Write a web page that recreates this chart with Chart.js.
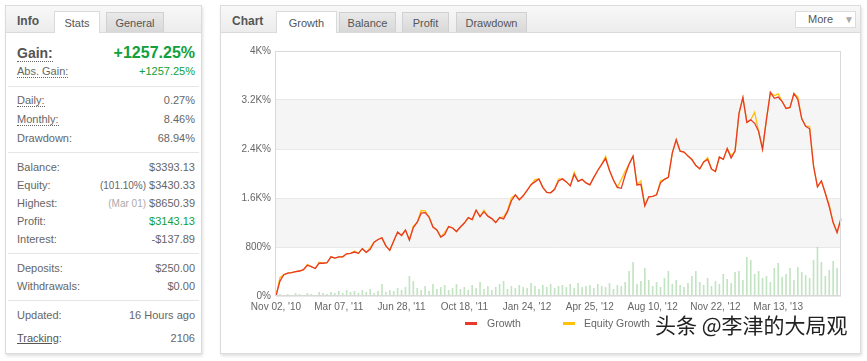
<!DOCTYPE html>
<html>
<head>
<meta charset="utf-8">
<script src="https://cdn.jsdelivr.net/npm/chart.js@4.4.1/dist/chart.umd.min.js"></script>
<style>
  html, body { margin: 0; padding: 0; background: #fff; }
  body { width: 867px; height: 361px; position: relative; overflow: hidden; font-family: "Liberation Sans", Arial, sans-serif; font-size: 11px; color: #666; }
  .panel { position: absolute; top: 5px; height: 347px; background: #fff; border: 1px solid #dcdcdc; box-shadow: 1px 2px 3px rgba(0, 0, 0, 0.13); }
  .head { position: absolute; left: 0; top: 0; right: 0; height: 26px; background: linear-gradient(#f8f8f8, #ececec); border-bottom: 1px solid #dadada; }
  .title { position: absolute; top: 0; line-height: 30px; font-weight: bold; font-size: 12px; color: #555; }
  .tab { position: absolute; top: 6px; height: 20px; line-height: 21px; text-align: center; font-size: 11px; color: #555; border: 1px solid #d0d0d0; border-bottom: none; background: linear-gradient(#e9e9e9, #d8d8d8); box-sizing: border-box; }
  .tab.on { top: 5px; height: 22px; line-height: 23px; background: #fff; border-color: #dadada; }
  .more { position: absolute; left: 574px; top: 5px; width: 61px; height: 17px; box-sizing: border-box; border: 1px solid #dcdcdc; background: #fff; font-size: 11px; color: #555; line-height: 15px; }
  .more span { position: absolute; left: 12px; }
  .more i { position: absolute; left: 48px; top: 0; font-style: normal; font-size: 10px; color: #aaa; }
  .row { position: absolute; left: 11px; width: 178px; height: 18px; line-height: 18px; }
  .row .v { position: absolute; right: 0; top: 0; }
  .dot { border-bottom: 1px dotted #666; }
  .green { color: #10a03c; }
  .big { height: 20px; line-height: 20px; }
  .big .k { font-size: 14px; font-weight: bold; color: #555; }
  .big .v { font-size: 16px; font-weight: bold; }
  .small { font-size: 10px; color: #666; }
  .light { font-size: 10px; color: #aaa; }
  .sep { position: absolute; left: 2px; width: 191px; height: 1px; background: #e6e6e6; }
  .u { text-decoration: underline; color: #555; }
  #chartBox { position: absolute; left: 222px; top: 36px; width: 634px; height: 280px; }
  .leg { position: absolute; top: 317px; line-height: 12px; font-size: 10.5px; color: #666; }
  .mk { position: absolute; top: 322px; width: 12px; height: 3px; }
  .mark { position: absolute; left: 655px; top: 310px; font-family: "Noto Sans CJK SC", sans-serif; font-size: 21px; line-height: 28px; color: #222;
          text-shadow: 0 0 2px #fff, 0 0 2px #fff, 1px 1px 1px #fff, -1px -1px 1px #fff; }
</style>
</head>
<body>

<div class="panel" style="left:5px; width:195px;">
  <div class="head">
    <div class="title" style="left:11px;">Info</div>
    <div class="tab on" style="left:48px; width:46px;">Stats</div>
    <div class="tab" style="left:100px; width:58px;">General</div>
  </div>
  <div class="row big" style="top:37px;"><span class="k dot">Gain:</span><span class="v green">+1257.25%</span></div>
  <div class="row" style="top:56px;"><span class="dot">Abs. Gain:</span><span class="v green">+1257.25%</span></div>
  <div class="sep" style="top:80px;"></div>
  <div class="row" style="top:85px;"><span class="dot">Daily:</span><span class="v">0.27%</span></div>
  <div class="row" style="top:104px;"><span class="dot">Monthly:</span><span class="v">8.46%</span></div>
  <div class="row" style="top:123px;">Drawdown:<span class="v">68.94%</span></div>
  <div class="sep" style="top:146px;"></div>
  <div class="row" style="top:152px;">Balance:<span class="v">$3393.13</span></div>
  <div class="row" style="top:170px;">Equity:<span class="v"><span class="small">(101.10%)</span> $3430.33</span></div>
  <div class="row" style="top:188px;">Highest:<span class="v"><span class="light">(Mar 01)</span> $8650.39</span></div>
  <div class="row" style="top:206px;">Profit:<span class="v green">$3143.13</span></div>
  <div class="row" style="top:224px;">Interest:<span class="v">-$137.89</span></div>
  <div class="sep" style="top:247px;"></div>
  <div class="row" style="top:253px;">Deposits:<span class="v">$250.00</span></div>
  <div class="row" style="top:271px;">Withdrawals:<span class="v">$0.00</span></div>
  <div class="sep" style="top:294px;"></div>
  <div class="row" style="top:300px;">Updated:<span class="v">16 Hours ago</span></div>
  <div class="row" style="top:323px;"><span class="u">Tracking</span>:<span class="v">2106</span></div>
</div>

<div class="panel" style="left:220px; width:639px;">
  <div class="head">
    <div class="title" style="left:11px;">Chart</div>
    <div class="tab on" style="left:55px; width:61px;">Growth</div>
    <div class="tab" style="left:118px; width:57px;">Balance</div>
    <div class="tab" style="left:181px; width:47px;">Profit</div>
    <div class="tab" style="left:235px; width:71px;">Drawdown</div>
    <div class="more"><span>More</span><i>&#9660;</i></div>
  </div>
</div>

<div id="chartBox"><canvas id="growthChart"></canvas></div>

<div class="mk" style="left:465px; background:#e8392c;"></div>
<div class="leg" style="left:487px;">Growth</div>
<div class="mk" style="left:563px; background:#ffc10e;"></div>
<div class="leg" style="left:584px;">Equity Growth</div>

<div class="mark">头条 @李津的大局观</div>

<script>
const tickLabels = ["Nov 02, '10", "Mar 07, '11", "Jun 28, '11", "Oct 18, '11", "Jan 24, '12",
    "Apr 25, '12", "Aug 10, '12", "Nov 22, '12", "Mar 13, '13"];
const pointsPerTick = 16;

// growth in %, one point per step
const growth = [
    0, 243, 348, 373, 381, 397, 408, 429, 502, 478, 449, 535, 535, 543, 640, 619,
    640, 640, 689, 697, 718, 697, 773, 713, 761, 880, 923, 948, 818, 745, 899, 1045,
    988, 1077, 915, 1118, 1204, 1353, 1361, 1288, 1126, 1077, 961, 1004, 1134, 1110, 1053, 1126,
    1191, 1280, 1247, 1401, 1296, 1377, 1304, 1264, 1199, 1280, 1259, 1377, 1555, 1652, 1571, 1636,
    1725, 1818, 1863, 1912, 1774, 1690, 1685, 1742, 1879, 1912, 1863, 1798, 1985, 1871, 1904, 1847,
    1814, 1936, 2049, 2150, 2244, 2049, 1895, 1774, 1758, 1976, 2155, 2284, 1814, 1823, 1474, 1620,
    1628, 1652, 1847, 1904, 1936, 2333, 2552, 2365, 2349, 2284, 2228, 2130, 2077, 2187, 2228, 2074,
    2033, 2268, 2231, 2406, 2252, 2365, 2981, 3240, 2835, 2876, 2819, 2689, 2398, 2884, 3324, 3227,
    3248, 3175, 3062, 3078, 3305, 3208, 2892, 2770, 2730, 2122, 1782, 1879, 1677, 1458, 1199, 1037,
    1257
];

const equityGrowth = [
    0, 300, 348, 373, 381, 397, 408, 429, 515, 478, 449, 550, 535, 543, 640, 619,
    640, 640, 689, 697, 735, 697, 773, 713, 790, 880, 923, 948, 818, 745, 899, 1045,
    988, 1077, 915, 1140, 1204, 1395, 1390, 1288, 1126, 1077, 961, 1040, 1134, 1110, 1053, 1126,
    1191, 1280, 1247, 1401, 1296, 1400, 1304, 1264, 1199, 1280, 1290, 1400, 1600, 1652, 1571, 1636,
    1725, 1818, 1900, 1912, 1774, 1690, 1685, 1742, 1910, 1912, 1863, 1798, 2020, 1871, 1904, 1847,
    1814, 1936, 2049, 2150, 2280, 2049, 1895, 1774, 1900, 2040, 2155, 2284, 1814, 1880, 1474, 1620,
    1628, 1652, 1880, 1904, 1936, 2333, 2552, 2365, 2349, 2284, 2228, 2130, 2077, 2187, 2260, 2074,
    2033, 2268, 2231, 2406, 2290, 2365, 2981, 3240, 2835, 2876, 3000, 2689, 2398, 2884, 3324, 3270,
    3300, 3175, 3062, 3078, 3305, 3250, 2892, 2770, 2770, 2122, 1782, 1879, 1677, 1490, 1199, 1037,
    1280
];

// trading volume under the curve (relative units)
const volume = [
    1, 2, 1, 2, 1, 3, 2, 1, 3, 2, 1, 4, 3, 2, 4, 3,
    5, 3, 6, 4, 5, 3, 6, 4, 7, 3, 5, 12, 4, 6, 5, 8,
    6, 9, 20, 15, 8, 6, 10, 5, 12, 7, 9, 11, 6, 8, 12, 7,
    9, 6, 11, 8, 14, 7, 10, 6, 9, 12, 15, 7, 10, 8, 11, 9,
    8, 13, 10, 7, 11, 9, 12, 8, 10, 11, 9, 12, 8, 13, 9, 10,
    11, 8, 12, 10, 9, 13, 7, 11, 10, 14, 25, 34, 12, 15, 28, 16,
    10, 14, 9, 18, 25, 12, 16, 11, 9, 13, 20, 25, 14, 11, 18, 10,
    15, 12, 22, 17, 13, 24, 25, 16, 39, 36, 22, 25, 18, 20, 14, 28,
    33, 19, 22, 28, 16, 29, 24, 21, 18, 36, 49, 34, 20, 26, 35, 28,
    22
];

const yMax = 4000;
const yStep = 800;
const volumeMax = 245;

// grey bands every other row, plus the thin frame round the plot
const plotFrame = {
    id: 'plotFrame',
    beforeDraw(chart) {
        const {ctx, chartArea: a, scales: {y}} = chart;
        ctx.save();
        ctx.fillStyle = '#f5f5f5';
        const ticks = y.ticks;
        for (let i = 1; i < ticks.length - 1; i += 2) {
            const top = y.getPixelForValue(ticks[i + 1].value);
            const bottom = y.getPixelForValue(ticks[i].value);
            ctx.fillRect(a.left, top, a.right - a.left, bottom - top);
        }
        ctx.restore();
    },
    afterDraw(chart) {
        const {ctx, chartArea: a} = chart;
        ctx.save();
        ctx.strokeStyle = '#d9d9d9';
        ctx.lineWidth = 1;
        ctx.strokeRect(Math.round(a.left) - 0.5, Math.round(a.top) + 0.5, Math.round(a.right - a.left), Math.round(a.bottom - a.top) - 1);
        ctx.restore();
    }
};

const tickFont = {family: '"Liberation Sans", Arial, sans-serif', size: 10};

new Chart(document.getElementById('growthChart'), {
    type: 'line',
    data: {
        labels: growth.map((v, i) => i),
        datasets: [
            {
                label: 'Growth',
                data: growth,
                borderColor: '#e8392c',
                borderWidth: 1.3,
                pointRadius: 0,
                tension: 0,
                order: 0
            },
            {
                label: 'Equity Growth',
                data: equityGrowth,
                borderColor: '#ffc10e',
                borderWidth: 1.3,
                pointRadius: 0,
                tension: 0,
                order: 1
            },
            {
                type: 'bar',
                label: 'Volume',
                data: volume,
                yAxisID: 'yv',
                backgroundColor: 'rgba(120, 195, 120, 0.45)',
                barPercentage: 0.42,
                categoryPercentage: 1,
                order: 2
            }
        ]
    },
    options: {
        responsive: true,
        maintainAspectRatio: false,
        animation: false,
        events: [],
        layout: {padding: {top: 15, right: 15, left: 0, bottom: 0}},
        plugins: {legend: {display: false}, tooltip: {enabled: false}},
        scales: {
            x: {
                type: 'category',
                offset: false,
                grid: {display: false, drawTicks: false},
                border: {display: false},
                ticks: {
                    autoSkip: false,
                    maxRotation: 0,
                    minRotation: 0,
                    padding: 5,
                    color: '#666',
                    font: tickFont,
                    callback: (val, i) => i % pointsPerTick === 0 ? (tickLabels[i / pointsPerTick] || '') : ''
                },
                afterFit: scale => { scale.height = 20; }
            },
            y: {
                min: 0,
                max: yMax,
                ticks: {
                    stepSize: yStep,
                    padding: 5,
                    color: '#666',
                    font: tickFont,
                    callback: v => v >= 1000 ? (v / 1000) + 'K%' : v + '%'
                },
                grid: {color: '#e8e8e8', drawTicks: false},
                border: {display: false},
                afterFit: scale => { scale.width = 54; }
            },
            yv: {
                display: false,
                min: 0,
                max: volumeMax
            }
        }
    },
    plugins: [plotFrame]
});
</script>
</body>
</html>
